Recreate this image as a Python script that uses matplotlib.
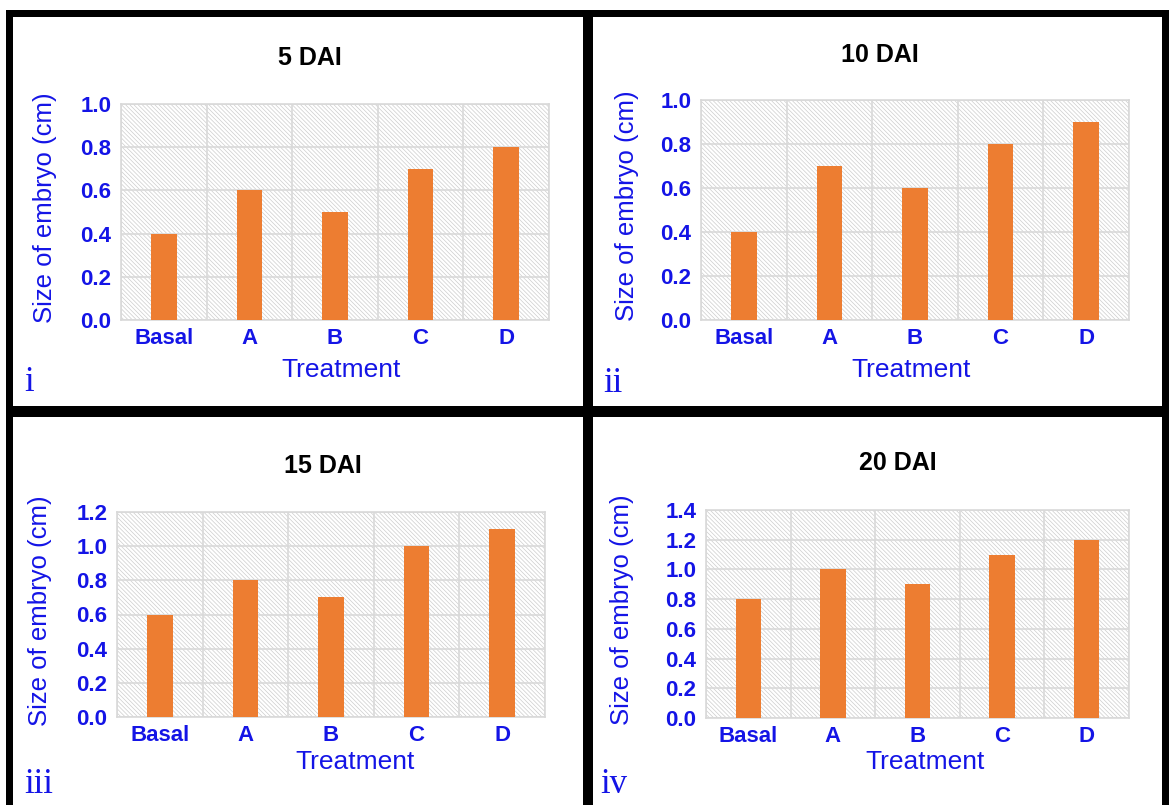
import matplotlib
matplotlib.use("Agg")
import matplotlib.pyplot as plt
from matplotlib.patches import Rectangle

W, H = 1169, 805

treatments = ["Basal", "A", "B", "C", "D"]
titles = ["5 DAI", "10 DAI", "15 DAI", "20 DAI"]
numerals = ["i", "ii", "iii", "iv"]
size_5 = [0.4, 0.6, 0.5, 0.7, 0.8]
size_10 = [0.4, 0.7, 0.6, 0.8, 0.9]
size_15 = [0.6, 0.8, 0.7, 1.0, 1.1]
size_20 = [0.8, 1.0, 0.9, 1.1, 1.2]
ytops = [1.0, 1.0, 1.2, 1.4]

BLUE = "#1414e6"
ORANGE = "#ED7D31"
GRID = "#d9d9d9"
HATCH = "#cdcdcd"

plt.rcParams["font.family"] = ["Liberation Sans", "DejaVu Sans"]
plt.rcParams["hatch.color"] = HATCH
plt.rcParams["hatch.linewidth"] = 0.5


def fx(x):
    return x / W


def fy(y):
    return 1 - y / H


# pixel boxes: axes (left, right, top, bottom), title xy, numeral xy, ylabel x, xlabel xy
panels = [
    dict(ax=(121, 549, 104, 320), title=(310, 58), num=(24, 382), ylab=45, xlab=(341, 370)),
    dict(ax=(701, 1129, 100, 320), title=(880, 55), num=(603, 383), ylab=627, xlab=(911, 370)),
    dict(ax=(117, 545, 512, 717), title=(323, 466), num=(24, 784), ylab=40, xlab=(355, 762)),
    dict(ax=(706, 1129, 510, 718), title=(898, 463), num=(600, 784), ylab=622, xlab=(925, 762)),
]
series = [size_5, size_10, size_15, size_20]

fig = plt.figure(figsize=(W / 100, H / 100), dpi=100)

for p, vals, ttl, num, top in zip(panels, series, titles, numerals, ytops):
    l, r, t, b = p["ax"]
    ax = fig.add_axes([fx(l), fy(b), fx(r - l), (b - t) / H])
    ax.set_facecolor("white")
    # hatched plot area
    ax.add_patch(Rectangle((0, 0), 1, 1, transform=ax.transAxes, facecolor="white",
                           edgecolor=HATCH, hatch="\\" * 8, linewidth=0, zorder=0))
    ax.bar(range(len(treatments)), vals, width=0.3, color=ORANGE, zorder=3)
    ax.set_xlim(-0.5, len(treatments) - 0.5)
    ax.set_ylim(0, top)
    yt = [round(0.2 * i, 1) for i in range(int(round(top / 0.2)) + 1)]
    ax.set_yticks(yt)
    ax.set_yticklabels([f"{v:.1f}" for v in yt])
    ax.set_xticks(range(len(treatments)))
    ax.set_xticklabels(treatments)
    ax.set_xticks([i + 0.5 for i in range(-1, len(treatments))], minor=True)
    ax.grid(True, which="major", axis="y", color=GRID, linewidth=1.2, zorder=1)
    ax.grid(True, which="minor", axis="x", color=GRID, linewidth=1.2, zorder=1)
    ax.set_axisbelow(True)
    ax.tick_params(which="both", length=0)
    ax.tick_params(axis="y", pad=7, labelsize=16, labelcolor=BLUE)
    ax.tick_params(axis="x", pad=6, labelsize=16, labelcolor=BLUE)
    for lab in ax.get_xticklabels() + ax.get_yticklabels():
        lab.set_fontweight("bold")
    for s in ax.spines.values():
        s.set_color(GRID)
        s.set_linewidth(1.2)

    fig.text(fx(p["title"][0]), fy(p["title"][1]), ttl, ha="center", va="center",
             fontsize=18, fontweight="bold", color="black")
    fig.text(fx(p["ylab"]), fy((t + b) / 2 - 4), "Size of embryo (cm)", rotation=90,
             ha="center", va="center", fontsize=18.5, color=BLUE)
    fig.text(fx(p["xlab"][0]), fy(p["xlab"][1]), "Treatment", ha="center", va="center",
             fontsize=19, color=BLUE)
    fig.text(fx(p["num"][0]), fy(p["num"][1]), num, ha="left", va="center",
             fontsize=25, color=BLUE, family=["Liberation Serif", "DejaVu Serif"])

# black frame and dividers
frame = [
    (6, 10, 1169 - 6, 7),      # top
    (6, 10, 7, 805 - 10),      # left
    (1162, 10, 7, 805 - 10),   # right
    (583, 10, 10, 805 - 10),   # vertical divider
    (6, 406, 1169 - 6, 11),    # horizontal divider
]
for x, y, w, h in frame:
    fig.patches.append(Rectangle((fx(x), fy(y + h)), w / W, h / H, transform=fig.transFigure,
                                 facecolor="black", edgecolor="none", zorder=10))

fig.savefig("out.png", dpi=100)
